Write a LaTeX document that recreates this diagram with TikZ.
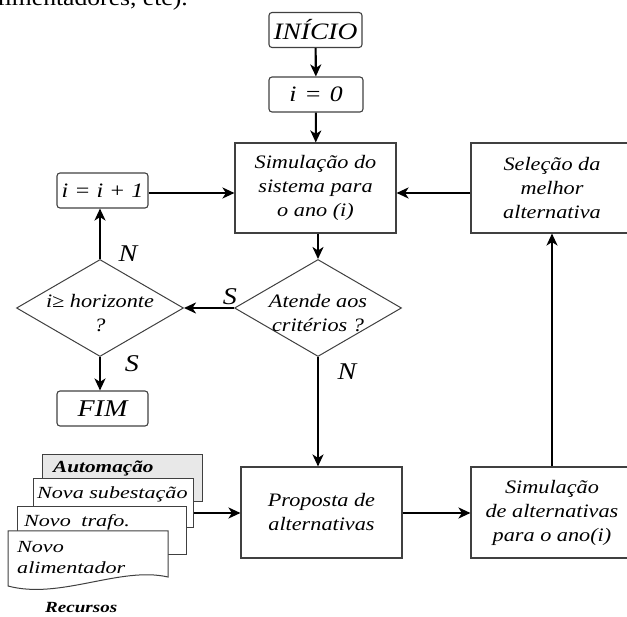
\documentclass[tikz,border=0pt]{standalone}
\usepackage{fontspec}
\setmainfont{Liberation Serif}
\newfontfamily\mainf[FakeStretch=1.17]{Liberation Serif}
\newfontfamily\docf[FakeStretch=1.3]{Liberation Serif}
\newfontfamily\autof[FakeStretch=1.25]{Liberation Serif}
\newfontfamily\recf[FakeStretch=1.23]{Liberation Serif}
\newfontfamily\topf[FakeStretch=1.14]{Liberation Serif}
\usetikzlibrary{shapes.geometric,arrows.meta,calc}
\definecolor{boxc}{gray}{0.25}
\definecolor{autofill}{gray}{0.91}
\begin{document}
\begin{tikzpicture}[x=1pt,y=-1pt,
  mtext/.style={font=\mainf\itshape\fontsize{19}{24}\selectfont, align=center},
  pbox/.style={draw=boxc, line width=1.1pt, minimum width=161pt, minimum height=90pt, inner sep=0pt, mtext},
  rbox/.style={draw=boxc, line width=1.1pt, rounded corners=3pt, inner sep=0pt, minimum height=35pt},
  dmd/.style={draw=boxc, line width=1pt, diamond, inner sep=0pt, minimum width=167pt, minimum height=97pt},
  lab/.style={font=\mainf\itshape\fontsize{24}{28}\selectfont, inner sep=0pt},
  arr/.style={line width=2.1pt, -{Stealth[length=12pt,width=11pt,inset=3.5pt]}},
  docbox/.style={draw=boxc, line width=1pt, fill=white},
  dtext/.style={font=\docf\itshape\fontsize{17}{20}\selectfont, anchor=base west, inner sep=0pt}]
\useasboundingbox (0,0) rectangle (627,617);
\clip (0,0) rectangle (627,617);

% cropped line of surrounding text
\node[font=\topf\fontsize{22.5}{26}\selectfont, anchor=base east, inner sep=0pt] (toptxt) at (188,5.5) {alimentadores, etc).};

% main flow
\node[rbox, minimum width=93pt, font=\mainf\itshape\fontsize{23.5}{28}\selectfont] (ini) at (315.5,30) {INÍCIO};
\node[rbox, minimum width=94pt, font=\mainf\itshape\fontsize{22}{26}\selectfont] (izero) at (316,94.5) {i\hspace{8pt}=\hspace{8pt}0};
\node[pbox] (sim) at (315.5,188) {Simulação do\\sistema para\\o ano (i)};
\node[pbox, minimum width=162pt] (sel) at (552,188) {Seleção da\\melhor\\alternativa};
\node[rbox, minimum width=91pt, font=\mainf\itshape\fontsize{20.5}{24}\selectfont] (inc) at (102.5,190.5) {i = i + 1};
\node[dmd, label={[mtext, yshift=-5pt]center:i≥ horizonte\\?}] (hor) at (100,308) {};
\node[dmd, label={[mtext, yshift=-5pt]center:Atende aos\\critérios ?}] (crit) at (318,308) {};
\node[rbox, minimum width=91pt, font=\mainf\itshape\fontsize{24}{28}\selectfont] (fim) at (102.5,408.5) {FIM};
\node[pbox, minimum height=91pt] (prop) at (321.5,512.5) {Proposta de\\alternativas};
\node[pbox, minimum width=162pt, minimum height=91pt] (sa) at (552,512.5) {Simulação\\de alternativas\\para o ano(i)};

% resources (stacked documents)
\node[docbox, fill=autofill, minimum width=160pt, minimum height=47pt, inner sep=0pt] (auto) at (122,478.5) {};
\node[font=\autof\bfseries\itshape\fontsize{17}{20}\selectfont, anchor=base west, inner sep=0pt] (autot) at (53,473) {Automação};
\node[docbox, minimum width=160pt, minimum height=49pt, inner sep=0pt] (nsub) at (113,503.5) {};
\node[dtext] (nsubt) at (37,499) {Nova subestação};
\node[docbox, minimum width=169pt, minimum height=48pt, inner sep=0pt] (ntr) at (101.5,531) {};
\node[dtext] (ntrt) at (24,526) {Novo\hspace{5pt} trafo.};
\path[docbox] (8,531) coordinate (nal) -- (168,531) -- (168,577) .. controls (120,566) and (60,600) .. (8,586) -- cycle;
\node[dtext] (nalt1) at (17,552) {Novo};
\node[dtext] (nalt2) at (17,573) {alimentador};
\node[font=\recf\bfseries\itshape\fontsize{15.5}{18}\selectfont, anchor=base west, inner sep=0pt] (rec) at (45,612) {Recursos};

% connectors
\coordinate (yA) at (0,193);
\coordinate (yB) at (0,513);
\draw[arr] (ini) -- (izero);
\draw[arr] (izero) -- (sim);
\draw[arr] (crit.north |- sim.south) -- (crit.north);
\draw[arr] (inc.east |- yA) -- (sim.west |- yA);
\draw[arr] (sel.west |- yA) -- (sim.east |- yA);
\draw[arr] (crit.west) -- (hor.east);
\draw[arr] (hor.north) -- (hor.north |- inc.south);
\draw[arr] (hor.south) -- (hor.south |- fim.north);
\draw[arr] (crit.south) -- (crit.south |- prop.north);
\draw[arr] (prop.east |- yB) -- (sa.west |- yB);
\draw[arr] (sa.north) -- (sel.south);
\draw[arr] (nsub.east |- yB) -- (prop.west |- yB);

% branch labels
\node[lab] (lS1) at (230,296.5) {S};
\node[lab] (lN1) at (128,254) {N};
\node[lab] (lS2) at (132,364) {S};
\node[lab] (lN2) at (347,372) {N};
\end{tikzpicture}
\end{document}
